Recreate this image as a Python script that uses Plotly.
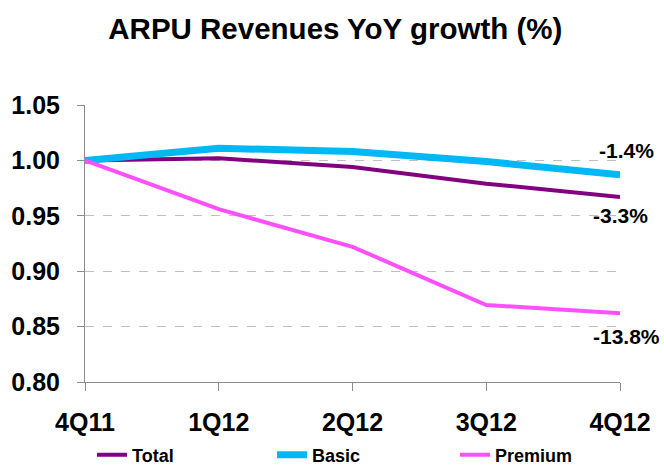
import plotly.graph_objects as go

quarters = ["4Q11", "1Q12", "2Q12", "3Q12", "4Q12"]
total = [1.000, 1.002, 0.994, 0.979, 0.967]
basic = [1.000, 1.011, 1.008, 0.999, 0.987]
premium = [1.000, 0.956, 0.922, 0.8695, 0.862]
end_labels = ["-3.3%", "-1.4%", "-13.8%"]

FONT = "Liberation Sans, Arial, sans-serif"
xs = list(range(len(quarters)))

fig = go.Figure()
fig.add_trace(go.Scatter(x=xs, y=total, mode="lines", name="Total", legend="legend",
                         line=dict(color="#800080", width=4)))
fig.add_trace(go.Scatter(x=xs, y=basic, mode="lines", name="Basic", legend="legend2",
                         line=dict(color="#00B8F5", width=7)))
fig.add_trace(go.Scatter(x=xs, y=premium, mode="lines", name="Premium", legend="legend3",
                         line=dict(color="#FF50FF", width=4)))

ann_font = dict(family=FONT, size=21, color="black", weight="bold")
fig.add_annotation(x=xs[-1], y=total[-1], text=end_labels[0], showarrow=False,
                   xref="x", yref="y", yshift=-19, xshift=0, font=ann_font)
fig.add_annotation(x=xs[-1], y=basic[-1], text=end_labels[1], showarrow=False,
                   xref="x", yref="y", yshift=24, xshift=6, font=ann_font)
fig.add_annotation(x=xs[-1], y=premium[-1], text=end_labels[2], showarrow=False,
                   xref="x", yref="y", yshift=-23, xshift=6, font=ann_font)

PW = 535.0
PH = 277.0
leg_font = dict(family=FONT, size=18, color="black", weight="bold")
leg_y = -(455 - 382) / PH


def leg(px):
    return dict(orientation="h", x=(px - 85) / PW, xanchor="left",
                y=leg_y, yanchor="middle", font=leg_font,
                bgcolor="rgba(0,0,0,0)")


fig.update_layout(
    width=664, height=466,
    margin=dict(l=85, r=44, t=105, b=84, autoexpand=False),
    paper_bgcolor="white", plot_bgcolor="white",
    title=dict(text="ARPU Revenues YoY growth (%)", x=0.505, xanchor="center",
               y=1 - 29 / 466, yanchor="middle",
               font=dict(family=FONT, size=29.5, color="black", weight="bold")),
    showlegend=True,
    legend=leg(92),
    legend2=leg(272),
    legend3=leg(455),
    xaxis=dict(range=[0, 4], tickmode="array", tickvals=xs, ticktext=quarters,
               showgrid=False, zeroline=False, showline=True, linecolor="#8C8C8C",
               linewidth=1, ticks="outside", ticklen=8, tickcolor="#8C8C8C",
               ticklabelstandoff=10,
               tickfont=dict(family=FONT, size=25, color="black", weight="bold")),
    yaxis=dict(range=[0.80, 1.05], tickmode="array",
               tickvals=[0.80, 0.85, 0.90, 0.95, 1.00, 1.05],
               ticktext=["0.80", "0.85", "0.90", "0.95", "1.00", "1.05"],
               showgrid=True, gridcolor="#BFBFBF", griddash="dash", gridwidth=1,
               zeroline=False, showline=True, linecolor="#8C8C8C", linewidth=1,
               ticks="outside", ticklen=7, tickcolor="#8C8C8C",
               ticklabelstandoff=12,
               tickfont=dict(family=FONT, size=25, color="black", weight="bold")),
)

fig.write_html("out.html")
